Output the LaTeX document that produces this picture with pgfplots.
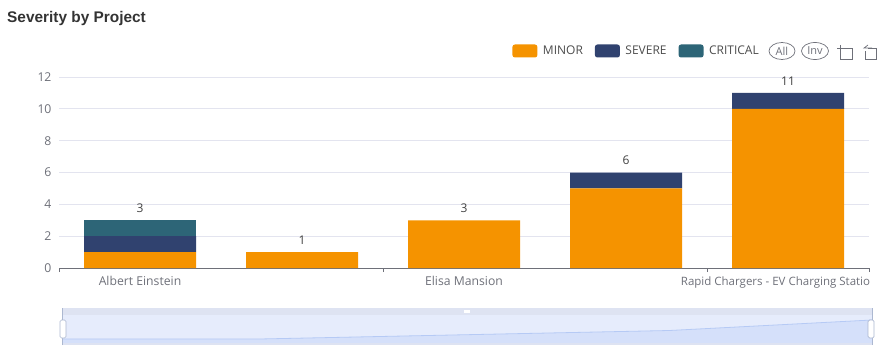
\documentclass[border=0pt]{standalone}
\usepackage{pgfplots}
\pgfplotsset{compat=1.18}
\usepackage{fontspec}
\setmainfont{Open Sans}
\newfontfamily\titlefont{Liberation Sans}
\definecolor{cMinor}{HTML}{F59300}
\definecolor{cSevere}{HTML}{30426F}
\definecolor{cCritical}{HTML}{2D6577}
\definecolor{txt}{HTML}{6E7079}
\definecolor{axl}{HTML}{6E7079}
\definecolor{grd}{HTML}{E3E4EF}
\definecolor{zband}{HTML}{DEE3F2}
\definecolor{zsel}{HTML}{E6ECFC}
\definecolor{zarea}{HTML}{D5E0FA}
\definecolor{zline}{HTML}{B6CAF5}
\definecolor{zhand}{HTML}{ACB8D1}
\pgfplotstableread{
x minor severe critical
0 1 1 1
1 1 0 0
2 3 0 0
3 5 1 0
4 10 1 0
}\sev
\pgfplotstableread{
x t
0 3
1 1
2 3
3 6
4 11
}\totals
\pgfplotstableread{
x y
0 1
1 1
2 3
3 5
4 10
}\shadow
\begin{document}
\begin{tikzpicture}[x=1pt,y=1pt]
\path[use as bounding box] (0,0) rectangle (888,354);
\node[anchor=base west,inner sep=0pt,text=black!80] at (7,331) {\titlefont\fontsize{15.4}{17}\selectfont\bfseries Severity by Project};
\begin{axis}[
  at={(59pt,86pt)},anchor=south west,
  scale only axis,width=810pt,height=191pt,
  xmin=-0.5,xmax=4.5,ymin=0,ymax=12,
  axis x line=bottom,axis y line=left,
  axis line style={-,draw=axl,line width=0.8pt},
  y axis line style={draw=none},
  ybar stacked,bar width=112pt,
  ytick={0,2,...,12},
  ymajorgrids,grid style={draw=grd,line width=0.8pt},
  xtick={-0.5,1.5,3.5,4.5},
  xticklabels={},
  extra x ticks={0,2,4},
  extra x tick labels={Albert Einstein,Elisa Mansion,{\fontsize{11.5}{13}\selectfont Rapid Chargers - EV Charging Statio\hspace*{25pt}}},
  extra x tick style={major tick length=0pt,
    xticklabel style={yshift=-5pt}},
  tick style={draw=axl,line width=0.8pt},
  major tick length=4pt,
  ytick style={draw=none},
  tick align=outside,
  xtick pos=bottom,
  ticklabel style={font=\fontsize{12.2}{14}\selectfont,text=txt},
  /pgf/number format/assume math mode=true,
  clip=false,
  legend columns=-1,
  legend style={at={(702pt,217pt)},anchor=east,draw=none,fill=none,
    font=\fontsize{12}{14}\selectfont,text=black!70,inner sep=0pt,
    /tikz/every even column/.style={column sep=10pt},
    /tikz/every odd column/.style={column sep=3.5pt}},
  legend image code/.code={\path[#1,draw=none,rounded corners=2.5pt] (0pt,-6.5pt) rectangle (25pt,6.5pt);},
]
\addplot+[fill=cMinor,draw=none] table[x=x,y=minor]{\sev};
\addplot+[fill=cSevere,draw=none] table[x=x,y=severe]{\sev};
\addplot+[fill=cCritical,draw=none] table[x=x,y=critical]{\sev};
\legend{MINOR,SEVERE,CRITICAL}
\end{axis}
\begin{axis}[
  at={(59pt,86pt)},anchor=south west,
  scale only axis,width=810pt,height=191pt,
  xmin=-0.5,xmax=4.5,ymin=0,ymax=12,
  axis lines=none,clip=false,
]
\addplot[only marks,mark=none,
  nodes near coords,
  nodes near coords style={font=\fontsize{12}{14}\selectfont,text=black!75,anchor=south,yshift=4pt},
  point meta=explicit symbolic]
  table[x=x,y=t,meta=t]{\totals};
\end{axis}
\begin{axis}[
  at={(62pt,10pt)},anchor=south west,
  scale only axis,width=810pt,height=29pt,
  xmin=0,xmax=4,ymin=-1.43,ymax=12.38,
  axis lines=none,clip=false,
]
\addplot[draw=none,fill=zsel] coordinates {(0,-1.43) (4,-1.43) (4,12.38) (0,12.38)} --cycle;
\addplot[draw=none,fill=zarea] coordinates {(0,-1.43) (0,1) (1,1) (2,3) (3,5) (4,10) (4,-1.43)} --cycle;
\addplot[draw=zline,line width=0.8pt] table[x=x,y=y]{\shadow};
\end{axis}
\fill[zband] (62,39) rectangle (872,46);
\fill[zband] (62,9) rectangle (872,11);
\draw[zhand,line width=0.7pt] (62,9) -- (62,46) (872,9) -- (872,46);
\draw[zhand,fill=white,line width=0.7pt,rounded corners=1.5pt] (60,16) rectangle (66,34);
\draw[zhand,fill=white,line width=0.7pt,rounded corners=1.5pt] (868,16) rectangle (874,34);
\fill[white] (464,41) rectangle (470,44);
% legend extras
\begin{scope}[txt,line width=0.7pt]
\draw (782,303) ellipse (13 and 8.5);
\node[font=\fontsize{11}{12}\selectfont,inner sep=0pt] at (782,303) {All};
\draw (815,303) ellipse (13.5 and 8.5);
\node[font=\fontsize{11}{12}\selectfont,inner sep=0pt] at (815,303) {Inv};
\draw (837,306) -- (852,306) -- (852,295) -- (840,295);
\draw (840,309) -- (840,294);
\draw (868,306) -- (876,306) -- (876,295) -- (865,295) -- (865,303);
\draw (868,309) -- (864,306) -- (872,306);
\end{scope}
\end{tikzpicture}
\end{document}
